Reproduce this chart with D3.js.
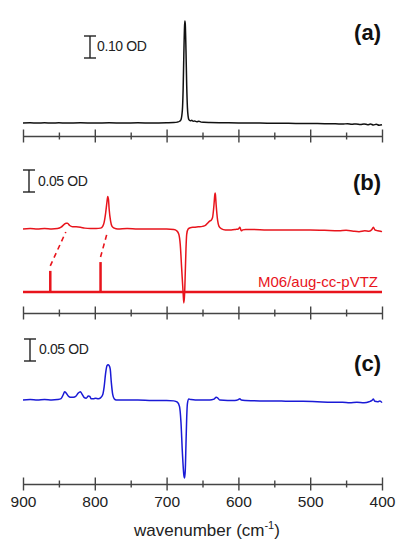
<!DOCTYPE html>
<html>
<head>
<meta charset="utf-8">
<script src="https://cdn.jsdelivr.net/npm/d3@7"></script>
<style>
  html, body { margin: 0; padding: 0; background: #fff; }
  svg { display: block; font-family: "Liberation Sans", Arial, Helvetica, sans-serif; }
</style>
</head>
<body>
<svg id="chart" width="397" height="539"></svg>
<script>
// ---------------- DATA ----------------
const majorTicks = [900, 800, 700, 600, 500, 400];
const minorTicks = [850, 750, 650, 550, 450];
const panelLabels = ["(a)", "(b)", "(c)"];
const scaleBarValues = [0.10, 0.05, 0.05];
const scaleBarLabels = ["0.10 OD", "0.05 OD", "0.05 OD"];
const calcLabel = "M06/aug-cc-pVTZ";
const xLabel = "wavenumber (cm";

// (a) black spectrum [wavenumber, OD]
const specA = [[900,0.000],[890,0.001],[880,0.000],[870,0.001],[860,0.000],[850,0.001],[840,0.000],[820,0.001],[800,0.000],[780,0.001],[760,0.000],[740,0.001],[720,0.000],[700,0.001],[690,0.002],[685,0.004],[682,0.008],[680,0.015],[678,0.06],[677,0.15],[676,0.31],[675,0.44],[674.5,0.464],[674,0.45],[673,0.33],[672,0.17],[671,0.07],[670,0.03],[669,0.015],[667,0.01],[665,0.012],[663,0.008],[661,0.009],[658,0.006],[655,0.008],[652,0.004],[648,0.003],[640,0.002],[620,0.001],[600,0.000],[580,0.000],[560,-0.001],[540,-0.001],[520,-0.002],[500,-0.002],[480,-0.003],[465,-0.003],[455,-0.005],[448,-0.003],[442,-0.006],[436,-0.004],[430,-0.007],[425,-0.004],[420,-0.008],[416,-0.005],[412,-0.009],[408,-0.006],[404,-0.010],[400,-0.008]];

// (b) red difference spectrum
const specB = [[900,0.000],[890,0.001],[880,0.000],[870,0.001],[860,0.000],[852,0.001],[847,0.004],[843,0.010],[840,0.013],[838,0.013],[835,0.008],[831,0.005],[826,0.005],[820,0.004],[814,0.002],[806,0.001],[798,0.001],[792,0.002],[789,0.006],[787,0.015],[785,0.035],[783,0.062],[782,0.074],[781,0.068],[780,0.045],[778,0.018],[776,0.006],[773,0.002],[768,0.000],[755,0.001],[740,0.000],[720,0.000],[700,0.000],[690,-0.001],[686,-0.004],[683,-0.012],[681,-0.035],[679,-0.09],[677,-0.145],[676,-0.168],[675,-0.15],[674,-0.10],[673,-0.045],[672,-0.012],[670,0.000],[667,0.003],[662,0.004],[656,0.005],[650,0.006],[646,0.008],[643,0.013],[640,0.018],[638,0.020],[636,0.026],[634,0.055],[633,0.076],[632.5,0.082],[632,0.078],[631,0.055],[629,0.02],[627,0.006],[624,0.001],[618,-0.002],[610,-0.002],[604,-0.001],[600,0.000],[598,0.004],[596,-0.004],[594,-0.002],[590,-0.001],[580,-0.001],[560,-0.002],[540,-0.002],[520,-0.002],[500,-0.002],[480,-0.003],[460,-0.004],[450,-0.003],[440,-0.005],[432,-0.006],[424,-0.004],[418,-0.005],[414,-0.001],[412,0.004],[410,-0.002],[406,-0.004],[402,-0.005],[400,-0.006]];

// (b) calculated stick spectrum [wavenumber, relative intensity]
const sticksB = [[862, 0.048], [792, 0.068]];
// (b) assignments: [calculated wavenumber, experimental wavenumber]
const assignB = [[862, 839], [792, 781]];

// (c) blue difference spectrum
const specC = [[900,0.000],[890,0.001],[880,0.000],[870,0.001],[860,0.000],[852,0.001],[847,0.003],[844,0.012],[842,0.019],[840,0.016],[837,0.009],[834,0.006],[830,0.006],[826,0.009],[823,0.016],[820,0.019],[818,0.014],[815,0.006],[812,0.004],[809,0.009],[807,0.008],[805,0.003],[802,0.003],[799,0.004],[795,0.003],[792,0.005],[789,0.012],[787,0.03],[785,0.06],[783,0.078],[781.5,0.080],[780,0.078],[778.5,0.07],[777,0.04],[775,0.012],[773,0.003],[770,0.000],[760,0.000],[740,0.000],[720,-0.001],[700,-0.001],[690,-0.002],[685,-0.005],[682,-0.015],[680,-0.05],[678,-0.12],[676,-0.17],[675,-0.177],[674,-0.16],[673,-0.10],[672,-0.04],[671,-0.008],[669,0.002],[666,0.001],[660,0.000],[650,0.000],[640,0.000],[634,0.002],[631,0.006],[629,0.005],[626,0.000],[615,-0.001],[605,-0.001],[600,0.001],[598,0.003],[596,0.000],[590,-0.001],[570,-0.002],[550,-0.002],[530,-0.003],[510,-0.003],[490,-0.004],[470,-0.005],[455,-0.005],[445,-0.006],[435,-0.005],[425,-0.006],[418,-0.004],[414,-0.001],[412,0.002],[410,-0.003],[406,-0.004],[403,-0.002],[400,-0.006]];

// ---------------- LAYOUT ----------------
const RED = "#e8141c", BLUE = "#1a1ad6", BLACK = "#111", AXIS = "#444";
const svg = d3.select("#chart");
const x = d3.scaleLinear().domain([900, 400]).range([23, 382]);

const panels = [
  { data: specA, color: BLACK, axisY: 136, base: 123, px: 22, bar: [90, 58], barLab: [97, 46], labY: 32 },
  { data: specB, color: RED,   axisY: 313, base: 229, px: 22, bar: [29, 192], barLab: [38, 181], labY: 182 },
  { data: specC, color: BLUE,  axisY: 484, base: 400, px: 22, bar: [30, 361], barLab: [39, 349], labY: 363 }
];

function drawAxis(yPos, withLabels) {
  const g = svg.append("g").attr("transform", `translate(0,${yPos})`);
  const axis = d3.axisBottom(x)
    .tickValues(majorTicks.concat(minorTicks))
    .tickSizeOuter(0)
    .tickSizeInner(7)
    .tickFormat(d => (withLabels && majorTicks.includes(d)) ? d : "");
  g.call(axis);
  g.select(".domain").attr("stroke", AXIS).attr("stroke-width", 1.4);
  g.selectAll(".tick line")
    .attr("stroke", AXIS).attr("stroke-width", 1.4)
    .attr("y1", d => majorTicks.includes(d) ? -6.5 : -3.5)
    .attr("y2", d => majorTicks.includes(d) ? 6.5 : 3.5);
  g.selectAll(".tick text")
    .attr("y", 12).attr("dy", "0.71em")
    .attr("fill", "#222")
    .style("font-size", "15.5px")
    .style("font-family", "'Liberation Sans', Arial, sans-serif");
}

panels.forEach((p, i) => {
  const yBar = scaleBarValues[i];
  const y = d3.scaleLinear().domain([0, yBar]).range([p.base, p.base - p.px]);
  drawAxis(p.axisY, i === 2);

  // spectrum
  svg.append("path")
    .datum(p.data)
    .attr("fill", "none")
    .attr("stroke", p.color)
    .attr("stroke-width", 1.5)
    .attr("stroke-linejoin", "round")
    .attr("d", d3.line().x(d => x(d[0])).y(d => y(d[1])).curve(d3.curveMonotoneX));

  // scale bar
  const h = y(0) - y(yBar);
  const bx = p.bar[0], by = p.bar[1];
  const sb = svg.append("g").attr("stroke", "#222").attr("stroke-width", 1.4);
  sb.append("line").attr("x1", bx).attr("x2", bx).attr("y1", by).attr("y2", by - h);
  sb.append("line").attr("x1", bx - 6).attr("x2", bx + 6).attr("y1", by).attr("y2", by);
  sb.append("line").attr("x1", bx - 6).attr("x2", bx + 6).attr("y1", by - h).attr("y2", by - h);
  svg.append("text")
    .attr("x", p.barLab[0]).attr("y", p.barLab[1])
    .attr("dy", "0.35em")
    .attr("fill", "#222")
    .style("font-size", "14px")
    .style("letter-spacing", "-0.4px")
    .text(scaleBarLabels[i]);

  // panel label
  svg.append("text")
    .attr("x", 381).attr("y", p.labY)
    .attr("dy", "0.35em")
    .attr("text-anchor", "end")
    .attr("fill", "#111")
    .style("font-size", "22px")
    .style("font-weight", "bold")
    .text(panelLabels[i]);

  if (i === 1) {
    const stickBase = 292;
    const ys = d3.scaleLinear().domain([0, 0.05]).range([stickBase, stickBase - 22]);
    // baseline of calculated spectrum
    svg.append("line")
      .attr("x1", x(900)).attr("x2", x(400))
      .attr("y1", stickBase).attr("y2", stickBase)
      .attr("stroke", RED).attr("stroke-width", 2.5);
    svg.selectAll(".stick").data(sticksB).enter().append("line")
      .attr("x1", d => x(d[0])).attr("x2", d => x(d[0]))
      .attr("y1", stickBase).attr("y2", d => ys(d[1]))
      .attr("stroke", RED).attr("stroke-width", 2.5);
    // dashed assignment connectors
    const stickMap = new Map(sticksB);
    svg.selectAll(".assign").data(assignB).enter().append("line")
      .attr("x1", d => x(d[0])).attr("y1", d => ys(stickMap.get(d[0])) - 5)
      .attr("x2", d => x(d[1]) - 1).attr("y2", p.base + 3)
      .attr("stroke", RED).attr("stroke-width", 1.6)
      .attr("stroke-dasharray", "5,4");
    svg.append("text")
      .attr("x", 378).attr("y", 282)
      .attr("dy", "0.35em")
      .attr("text-anchor", "end")
      .attr("fill", RED)
      .style("font-size", "15px")
      .text(calcLabel);
  }
});

// x axis title
const t = svg.append("text")
  .attr("x", 207).attr("y", 536)
  .attr("text-anchor", "middle")
  .attr("fill", "#222")
  .style("font-size", "17px");
t.append("tspan").text(xLabel);
t.append("tspan").attr("dy", -7).style("font-size", "11px").text("-1");
t.append("tspan").attr("dy", 7).text(")");
</script>
</body>
</html>
